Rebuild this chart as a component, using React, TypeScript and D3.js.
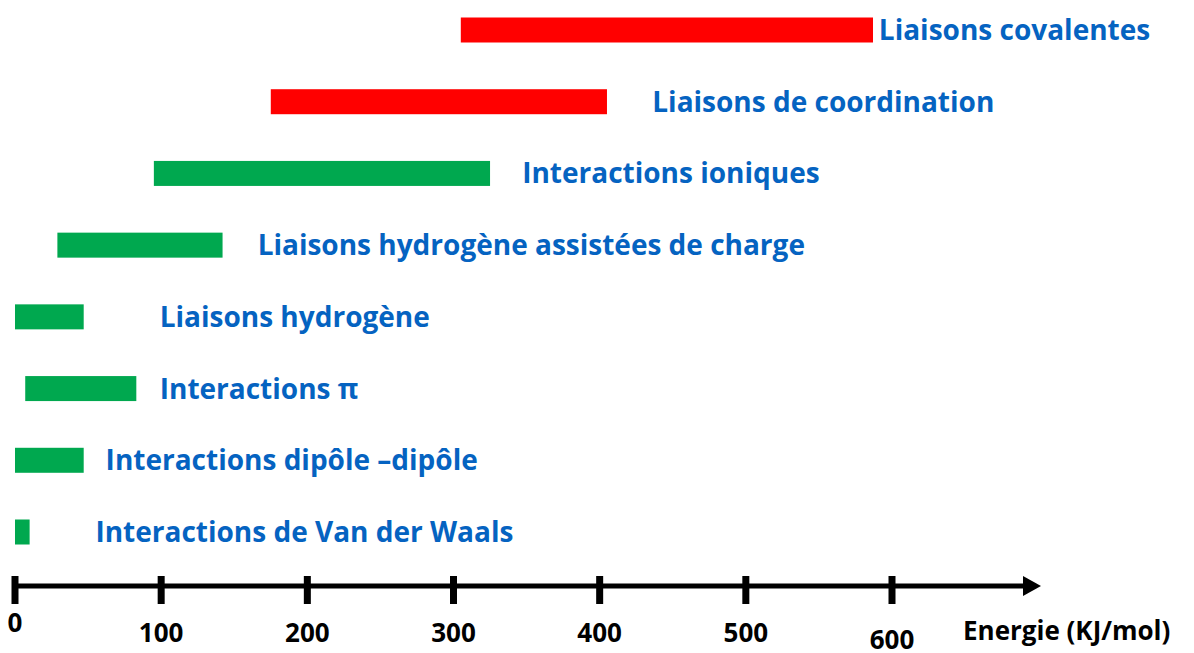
import React, { useRef, useEffect } from "react"
import * as d3 from "d3"

// energy ranges (kJ/mol)
const categories = [
    "Liaisons covalentes",
    "Liaisons de coordination",
    "Interactions ioniques",
    "Liaisons hydrogène assistées de charge",
    "Liaisons hydrogène",
    "Interactions π",
    "Interactions dipôle –dipôle",
    "Interactions de Van der Waals",
]
const energyMin = [305, 175, 95, 29, 0, 7, 0, 0]
const energyMax = [587, 405, 325, 142, 47, 83, 47, 10]
const strong = [true, true, false, false, false, false, false, false]
// where each label starts, in energy units
const labelAt = [591, 436, 347, 166, 99, 99, 62, 55]
const tickValues = [0, 100, 200, 300, 400, 500, 600]
const axisTitle = "Energie (KJ/mol)"

const App = () => {
    let element = useRef(null)

    useEffect(() => {
        const width = 1194, height = 653
        const font = "'Open Sans', 'Liberation Sans', sans-serif"

        let svg = d3.select(element.current)
            .append("svg")
                .attr("width", width)
                .attr("height", height)
                .style("position", "absolute")
                .style("left", 0)
                .style("top", 0)
                .style("background", "#fff")

        let x = d3.scaleLinear()
            .domain([0, 600])
            .range([15, 892])

        let y = d3.scalePoint()
            .domain(categories)
            .range([30, 532])

        const barH = 25
        const axisY = 586

        let rows = categories.map((c, i) => ({
            name: c, lo: energyMin[i], hi: energyMax[i], strong: strong[i], lab: labelAt[i]
        }))

        svg.selectAll("rect.bar")
            .data(rows)
            .enter()
            .append("rect")
                .attr("class", "bar")
                .attr("x", d => x(d.lo))
                .attr("y", d => y(d.name) - barH / 2)
                .attr("width", d => x(d.hi) - x(d.lo))
                .attr("height", barH)
                .attr("fill", d => d.strong ? "#ff0000" : "#00a84f")

        svg.selectAll("text.lab")
            .data(rows)
            .enter()
            .append("text")
                .attr("class", "lab")
                .attr("x", d => x(d.lab))
                .attr("y", d => y(d.name) + 10)
                .attr("fill", "#0563c1")
                .style("font-family", font)
                .style("font-weight", 700)
                .style("font-size", "28px")
                .text(d => d.name)

        // axis line with arrow
        svg.append("line")
            .attr("x1", 12)
            .attr("x2", 1025)
            .attr("y1", axisY)
            .attr("y2", axisY)
            .attr("stroke", "#000")
            .attr("stroke-width", 5)

        svg.append("path")
            .attr("d", `M1023,${axisY - 10}L1041,${axisY}L1023,${axisY + 10}Z`)
            .attr("fill", "#000")

        svg.selectAll("rect.tick")
            .data(tickValues)
            .enter()
            .append("rect")
                .attr("class", "tick")
                .attr("x", d => x(d) - 3.5)
                .attr("y", axisY - 10)
                .attr("width", 7)
                .attr("height", 28)
                .attr("fill", "#000")

        // hand-drawn look: "0" sits higher, "600" lower
        const tickDy = [-10, 0, 0, 0, 0, 0, 7]
        svg.selectAll("text.ticklab")
            .data(tickValues)
            .enter()
            .append("text")
                .attr("class", "ticklab")
                .attr("x", d => x(d))
                .attr("y", (d, i) => 642 + tickDy[i])
                .attr("text-anchor", "middle")
                .style("font-family", font)
                .style("font-weight", 700)
                .style("font-size", "26px")
                .text(d => d)

        svg.append("text")
            .attr("x", 963)
            .attr("y", 640)
            .style("font-family", font)
            .style("font-weight", 700)
            .style("font-size", "26px")
            .text(axisTitle)

        return () => {
            if (element.current) {
                for (let child of Array.from(element.current.children)) {
                    child.remove()
                }
            }
        }
    })

    return <div ref={element}></div>
}

export default App
